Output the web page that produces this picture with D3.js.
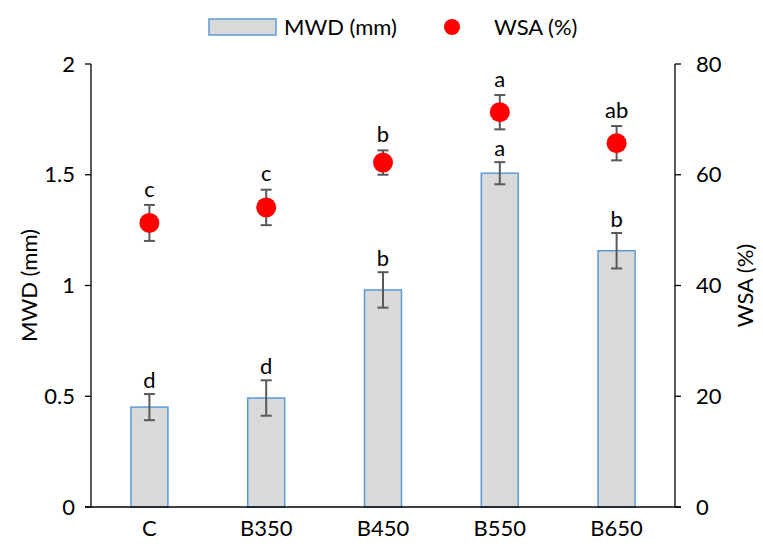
<!DOCTYPE html>
<html><head><meta charset="utf-8">
<script src="https://cdn.jsdelivr.net/npm/d3@7"></script>
<style>body{margin:0;background:#fff}svg{display:block}text{font-family:Lato,"Open Sans",sans-serif;fill:#000}</style>
</head><body><svg id="c" width="763" height="547"></svg>
<script>
const categories = ["C","B350","B450","B550","B650"];
const mwd = [0.451, 0.492, 0.98, 1.507, 1.157];
const mwdErr = [0.059, 0.08, 0.08, 0.05, 0.08];
const mwdLetters = ["d","d","b","a","b"];
const wsa = [51.3, 54.1, 62.2, 71.3, 65.7];
const wsaErr = [3.25, 3.2, 2.2, 3.1, 3.1];
const wsaLetters = ["c","c","b","a","ab"];
const leftTicks = [0, 0.5, 1, 1.5, 2];
const rightTicks = [0, 20, 40, 60, 80];

const svg = d3.select("#c");
const L = 91, R = 675, T = 64, B = 507;
const x = d3.scaleBand().domain(categories).range([L, R]).paddingInner(0).paddingOuter(0);
const yL = d3.scaleLinear().domain([0, 2]).range([B, T]);
const yR = d3.scaleLinear().domain([0, 80]).range([B, T]);
const bw = 37;
const fs = 22;

// bars
svg.append("g").selectAll("rect").data(categories).join("rect")
  .attr("x", d => x(d) + x.bandwidth()/2 - bw/2)
  .attr("y", (d,i) => yL(mwd[i]))
  .attr("width", bw)
  .attr("height", (d,i) => B - yL(mwd[i]))
  .attr("fill", "#d9d9d9").attr("stroke", "#5b9bd5").attr("stroke-width", 1.5);

function errBars(vals, errs, scale) {
  const g = svg.append("g").attr("stroke", "#595959").attr("stroke-width", 2);
  categories.forEach((c, i) => {
    const cx = x(c) + x.bandwidth()/2;
    const y1 = scale(vals[i] + errs[i]), y2 = scale(vals[i] - errs[i]);
    g.append("line").attr("x1", cx).attr("x2", cx).attr("y1", y1).attr("y2", y2);
    g.append("line").attr("x1", cx-5.5).attr("x2", cx+5.5).attr("y1", y1).attr("y2", y1);
    g.append("line").attr("x1", cx-5.5).attr("x2", cx+5.5).attr("y1", y2).attr("y2", y2);
  });
}
errBars(mwd, mwdErr, yL);

// axes
const ax = svg.append("g").attr("stroke", "#000").attr("stroke-width", 1.3);
ax.append("line").attr("x1", L).attr("x2", L).attr("y1", T).attr("y2", B);
ax.append("line").attr("x1", R).attr("x2", R).attr("y1", T).attr("y2", B);
ax.append("line").attr("x1", L-6).attr("x2", R+6).attr("y1", B).attr("y2", B);
leftTicks.forEach(t => ax.append("line").attr("x1", L-6).attr("x2", L).attr("y1", yL(t)).attr("y2", yL(t)));
rightTicks.forEach(t => ax.append("line").attr("x1", R).attr("x2", R+6).attr("y1", yR(t)).attr("y2", yR(t)));

svg.append("g").selectAll("text").data(leftTicks).join("text")
  .attr("x", L-16).attr("y", d => yL(d)).attr("dy", "0.35em").attr("text-anchor", "end")
  .attr("font-size", fs).text(d => d);
svg.append("g").selectAll("text").data(rightTicks).join("text")
  .attr("x", R+21).attr("y", d => yR(d)).attr("dy", "0.35em").attr("text-anchor", "start")
  .attr("font-size", fs).text(d => d);
svg.append("g").selectAll("text").data(categories).join("text")
  .attr("x", d => x(d) + x.bandwidth()/2).attr("y", 536).attr("text-anchor", "middle")
  .attr("font-size", fs).text(d => d);

svg.append("text").attr("transform", `translate(29,${(T+B)/2}) rotate(-90)`)
  .attr("text-anchor", "middle").attr("dy", "0.35em").attr("font-size", fs).text("MWD (mm)");
svg.append("text").attr("transform", `translate(745,${(T+B)/2}) rotate(-90)`)
  .attr("text-anchor", "middle").attr("dy", "0.35em").attr("font-size", fs).text("WSA (%)");

// WSA points
errBars(wsa, wsaErr, yR);
svg.append("g").selectAll("circle").data(categories).join("circle")
  .attr("cx", d => x(d) + x.bandwidth()/2).attr("cy", (d,i) => yR(wsa[i]))
  .attr("r", 10).attr("fill", "#ff0000");

// letters
svg.append("g").selectAll("text").data(categories).join("text")
  .attr("x", d => x(d) + x.bandwidth()/2).attr("y", (d,i) => yL(mwd[i] + mwdErr[i]) - 14)
  .attr("dy", "0.35em").attr("text-anchor", "middle").attr("font-size", fs).text((d,i) => mwdLetters[i]);
svg.append("g").selectAll("text").data(categories).join("text")
  .attr("x", d => x(d) + x.bandwidth()/2).attr("y", (d,i) => yR(wsa[i] + wsaErr[i]) - 16)
  .attr("dy", "0.35em").attr("text-anchor", "middle").attr("font-size", fs).text((d,i) => wsaLetters[i]);

// legend
const lg = svg.append("g");
lg.append("rect").attr("x", 209).attr("y", 19).attr("width", 67).attr("height", 16)
  .attr("fill", "#d9d9d9").attr("stroke", "#5b9bd5").attr("stroke-width", 1.5);
lg.append("text").attr("x", 284).attr("y", 27).attr("dy", "0.35em").attr("font-size", fs).text("MWD (mm)");
lg.append("circle").attr("cx", 452).attr("cy", 27).attr("r", 8).attr("fill", "#ff0000");
lg.append("text").attr("x", 494).attr("y", 27).attr("dy", "0.35em").attr("font-size", fs).text("WSA (%)");
</script></body></html>
